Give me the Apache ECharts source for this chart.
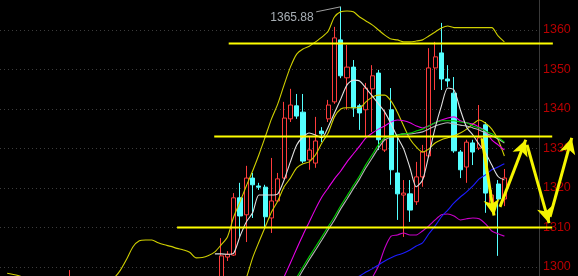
<!DOCTYPE html>
<html><head><meta charset="utf-8">
<script src="https://cdn.jsdelivr.net/npm/echarts@6/dist/echarts.min.js"></script>
<style>html,body{margin:0;padding:0;background:#000;}#c{width:578px;height:276px;}</style>
</head><body><div id="c"></div>
<script>
// ---------- data ----------
const categoryCount = 85;
const firstIndex = 34;
const opens  = [1294.2,1302.5,1303.0,1317.5,1313.2,1322.5,1320.5,1320.2,1312.4,1316.7,1322.5,1337.5,1340.8,1339.2,1327.1,1326.3,1334.4,1337.5,1341.8,1357.5,1347.9,1350.6,1340.8,1339.8,1345.1,1349.1,1329.6,1339.8,1323.8,1318.2,1318.5,1316.5,1322.8,1328.1,1350.4,1354.2,1347.6,1344.0,1329.1,1325.3,1331.4,1330.1,1336.0,1315.7,1321.0,1317.2];
const closes = [1302.8,1303.2,1317.5,1312.9,1322.5,1320.8,1320.2,1312.7,1316.7,1322.3,1337.7,1341.0,1338.2,1326.8,1329.6,1331.9,1333.7,1341.0,1358.0,1348.4,1350.6,1340.3,1339.0,1345.3,1348.4,1332.2,1332.2,1324.6,1318.5,1318.7,1314.4,1322.8,1329.1,1350.4,1353.2,1347.6,1347.1,1329.4,1324.6,1331.6,1329.1,1332.7,1318.7,1318.2,1317.2,1322.5];
const lows   = [1293.5,1301.5,1302.8,1307.6,1306.3,1312.4,1319.5,1309.6,1308.6,1316.5,1322.3,1336.7,1337.5,1326.3,1324.6,1325.1,1331.6,1336.7,1341.3,1347.8,1339.8,1338.0,1334.7,1332.9,1334.2,1329.6,1329.1,1320.8,1311.9,1307.6,1311.4,1315.7,1320.3,1327.6,1344.8,1344.8,1345.6,1328.9,1322.5,1321.3,1325.8,1329.6,1313.7,1314.4,1302.8,1315.4];
const highs  = [1307.3,1304.0,1318.7,1321.3,1325.6,1323.8,1321.3,1320.8,1327.6,1323.8,1341.8,1345.1,1343.8,1343.8,1332.9,1338.0,1335.4,1342.3,1360.8,1365.88,1356.2,1352.4,1341.3,1346.6,1351.1,1349.9,1339.8,1345.3,1332.9,1322.0,1322.0,1326.6,1330.9,1355.4,1357.0,1361.8,1351.1,1348.1,1329.6,1332.2,1332.2,1341.0,1336.7,1319.5,1322.0,1324.8];
const earlyIndex = 10;
const earlyCandle = [1290.0, 1297.5, 1288.0, 1299.2];

const bollUpper = [1298.4,1298.1,1297.7,1297.1,1296.6,1296.1,1295.7,1295.4,1295.2,1295.1,1295.0,1295.1,1295.3,1295.6,1296.0,1296.4,1296.8,1297.3,1299.2,1302.0,1305.1,1306.6,1306.8,1306.8,1306.1,1305.6,1305.2,1304.7,1304.3,1303.7,1302.3,1302.4,1302.9,1303.8,1305.6,1307.6,1312.7,1316.5,1320.5,1324.3,1328.4,1332.9,1337.5,1341.3,1346.1,1350.6,1353.9,1355.2,1355.9,1357.0,1358.2,1359.7,1363.3,1364.6,1364.8,1364.6,1363.3,1362.3,1361.3,1360.0,1358.7,1357.7,1357.5,1357.0,1357.0,1357.2,1357.5,1358.5,1359.5,1360.5,1361.0,1360.6,1360.6,1360.6,1360.6,1360.6,1360.6,1360.6,1358.5,1357.0];
const bollUpperStart = 0;
const midYellow = [1290.0,1293.5,1297.2,1302.3,1306.3,1310.1,1313.9,1316.7,1320.3,1322.5,1325.1,1326.1,1326.6,1328.4,1331.4,1333.9,1338.0,1340.0,1340.3,1340.3,1340.3,1341.8,1343.0,1343.5,1343.5,1342.0,1339.2,1335.7,1332.4,1330.4,1329.1,1329.9,1331.4,1332.2,1332.7,1333.2,1333.9,1334.9,1336.2,1337.2,1336.4,1334.9,1332.2,1328.1];
const midYellowStart = 36;
const ma5 = [1303.3,1303.3,1303.2,1303.5,1307.8,1311.4,1313.7,1318.2,1318.2,1318.2,1318.5,1322.0,1326.6,1330.9,1332.9,1333.9,1333.4,1332.7,1335.4,1339.0,1342.5,1346.1,1347.3,1347.1,1345.3,1343.3,1341.3,1339.2,1336.2,1332.9,1329.9,1325.1,1320.3,1322.0,1328.4,1335.2,1340.8,1345.3,1344.8,1339.8,1335.4,1333.4,1331.0,1328.9,1325.8,1322.9,1322.0];
const ma5Start = 33;
const slowGray = [1296.5,1299.2,1301.8,1304.3,1306.8,1309.4,1311.9,1314.7,1317.2,1319.8,1322.3,1325.1,1327.6,1330.1,1332.2,1332.9,1333.4,1333.7,1333.7,1333.9,1334.2,1334.9,1335.7,1336.2,1336.5,1336.2,1335.9,1335.7,1335.2,1334.7,1333.9,1333.2,1332.4,1331.4];
const slowGrayStart = 46;
const greenLine = [1297.3,1300.0,1302.6,1305.1,1307.6,1310.2,1312.7,1315.5,1318.0,1320.6,1323.1,1325.9,1328.4,1330.9,1332.7,1333.2,1333.4,1333.7,1333.9,1334.4,1334.9,1335.7,1336.5,1337.0,1337.0,1337.0,1336.7,1336.5,1335.7,1335.2,1334.4,1333.7,1332.7,1331.6];
const greenStart = 46;
const magentaUpper = [1294.2,1297.5,1301.0,1304.6,1308.1,1311.4,1314.7,1317.7,1320.0,1322.3,1324.3,1326.6,1328.6,1330.6,1332.7,1333.9,1334.9,1335.7,1336.7,1337.2,1337.0,1336.5,1335.7,1335.2,1335.7,1336.5,1337.2,1337.7,1338.0,1337.0,1336.5,1336.2,1335.4,1334.4,1332.2,1330.9,1329.6];
const magentaUpperStart = 43;
const magentaLower = [1291.6,1294.2,1297.2,1300.3,1304.8,1307.8,1308.1,1308.6,1308.1,1308.1,1309.1,1310.4,1311.9,1313.2,1313.4,1312.9,1311.9,1312.2,1312.4,1312.2,1310.9,1309.1,1308.4,1307.8];
const magentaLowerStart = 56;
const blueLine = [1294.7,1295.7,1297.0,1297.7,1298.7,1299.5,1300.5,1301.5,1302.3,1303.0,1303.5,1304.3,1305.3,1306.1,1308.4,1310.4,1312.7,1314.4,1316.2,1317.7,1319.0,1320.5,1322.3,1323.3,1324.6,1325.3,1326.1];
const blueStart = 53;

const tickValues = [1300, 1310, 1320, 1330, 1340, 1350, 1360];
// horizontal levels: [price, fromIndex, toIndex]
const levelPrices = [1356.6, 1333.0, 1310.0];
const levelFrom   = [35.2, 32.9, 27.0];
const levelTo     = [86.7, 86.6, 86.6];
// arrows: [fromIndex, fromPrice, toIndex, toPrice]
const arrowPaths = [
  [75.45, 1332.5, 77.35, 1313.0],
  [78.3, 1315.2, 82.4, 1332.2],
  [82.6, 1330.9, 86.1, 1311.1],
  [86.25, 1312.7, 89.7, 1332.7]
];
const highNoteText = '1365.88';
const highNoteFrom = [49.1, 1364.6];
const highNoteTo = [53, 1365.88];

// ---------- layout ----------
const W = 578, H = 276;
const yMin = 1297.7, yMax = 1367.6;
const gridLeft = 4, gridRight = 39;
const pitch = (W - gridLeft - gridRight) / categoryCount;
const fullMin = -gridLeft / pitch - 0.5;
const fullMax = (W - gridLeft) / pitch - 0.5;
const labTop = (yMax - 1360) / (yMax - yMin) * H;
const labBottom = (1300 - yMin) / (yMax - yMin) * H;

function pad(arr, start) {
  const out = new Array(categoryCount).fill('-');
  arr.forEach((v, i) => { out[start + i] = v; });
  return out;
}
const candleData = new Array(categoryCount).fill(null).map(() => ['-', '-', '-', '-']);
candleData[earlyIndex] = earlyCandle;
opens.forEach((o, i) => { candleData[firstIndex + i] = [o, closes[i], lows[i], highs[i]]; });
const cats = Array.from({length: categoryCount}, (_, i) => String(i));

function lineSeries(name, arr, start, color) {
  return {
    name, type: 'line', xAxisIndex: 0, yAxisIndex: 0, data: pad(arr, start),
    showSymbol: false, symbol: 'none', smooth: 0.25, silent: true,
    lineStyle: { color, width: 1.1 }, connectNulls: false
  };
}

const chart = echarts.init(document.getElementById('c'), null, { renderer: 'canvas' });
chart.setOption({
  animation: false,
  backgroundColor: '#000',
  grid: [
    { left: gridLeft, right: gridRight, top: 0, bottom: 0 },
    { left: 0, right: 0, top: 0, bottom: 0 },
    { left: 0, right: gridRight, top: labTop, bottom: labBottom }
  ],
  xAxis: [
    { type: 'category', gridIndex: 0, data: cats, boundaryGap: true, show: false },
    { type: 'value', gridIndex: 1, min: fullMin, max: fullMax, show: false },
    { type: 'value', gridIndex: 2, min: 0, max: 1, show: false }
  ],
  yAxis: [
    { type: 'value', gridIndex: 0, min: yMin, max: yMax, position: 'right', scale: true,
      axisLine: { show: true, lineStyle: { color: '#3a3a3a', width: 1 } },
      axisTick: { show: false }, axisLabel: { show: false }, splitLine: { show: false } },
    { type: 'value', gridIndex: 1, min: yMin, max: yMax, show: false, scale: true },
    { type: 'value', gridIndex: 2, min: tickValues[0], max: tickValues[tickValues.length - 1], interval: 10,
      position: 'right', scale: true,
      axisLine: { show: false }, axisTick: { show: false },
      axisLabel: { show: true, color: '#b80000', fontSize: 12.5, fontFamily: 'Liberation Sans, Arial, sans-serif',
        margin: 4, padding: [6, 0, 0, 0], formatter: v => String(v) },
      splitLine: { show: true, lineStyle: { color: '#3c3c3c', width: 1, type: [1, 3] } } }
  ],
  series: [
    {
      type: 'candlestick', xAxisIndex: 0, yAxisIndex: 0, data: candleData, barWidth: 4.6, silent: true,
      itemStyle: { color: '#000000', color0: '#54ffff', borderColor: '#ff3c3c', borderColor0: '#54ffff', borderWidth: 1 }
    },
    lineSeries('bollUpper', bollUpper, bollUpperStart, '#d0d000'),
    lineSeries('midYellow', midYellow, midYellowStart, '#d0d000'),
    lineSeries('magentaLower', magentaLower, magentaLowerStart, '#c800c8'),
    lineSeries('blue', blueLine, blueStart, '#1c1cff'),
    lineSeries('magentaUpper', magentaUpper, magentaUpperStart, '#e800e8'),
    lineSeries('slowGray', slowGray, slowGrayStart, '#b8b8b8'),
    lineSeries('green', greenLine, greenStart, '#00d000'),
    lineSeries('ma5', ma5, ma5Start, '#e0e0e0'),
    ...levelPrices.map((p, i) => ({
      type: 'line', xAxisIndex: 1, yAxisIndex: 1, showSymbol: false, symbol: 'none', silent: true,
      data: [[levelFrom[i], p], [levelTo[i], p]], lineStyle: { color: '#ffff00', width: 2 }
    })),
    {
      type: 'line', xAxisIndex: 1, yAxisIndex: 1, showSymbol: false, symbol: 'none', silent: true,
      data: [highNoteFrom, highNoteTo], lineStyle: { color: '#a0a0a0', width: 1 }
    },
    {
      type: 'scatter', xAxisIndex: 1, yAxisIndex: 1, symbolSize: 1, silent: true,
      itemStyle: { color: 'rgba(0,0,0,0)' },
      data: [highNoteFrom],
      label: { show: true, position: 'left', distance: 2, offset: [0, 6], formatter: highNoteText,
        color: '#d0d8e0', fontSize: 12, fontFamily: 'Liberation Sans, Arial, sans-serif' }
    },
    {
      type: 'line', xAxisIndex: 1, yAxisIndex: 1, data: [], silent: true,
      markLine: {
        silent: true, animation: false,
        symbol: ['none', 'arrow'], symbolSize: [12, 16],
        label: { show: false },
        lineStyle: { color: '#f5f500', width: 3, type: 'solid' },
        emphasis: { disabled: true },
        data: arrowPaths.map(a => [{ coord: [a[0], a[1]] }, { coord: [a[2], a[3]] }])
      }
    }
  ]
});
</script>
</body></html>
